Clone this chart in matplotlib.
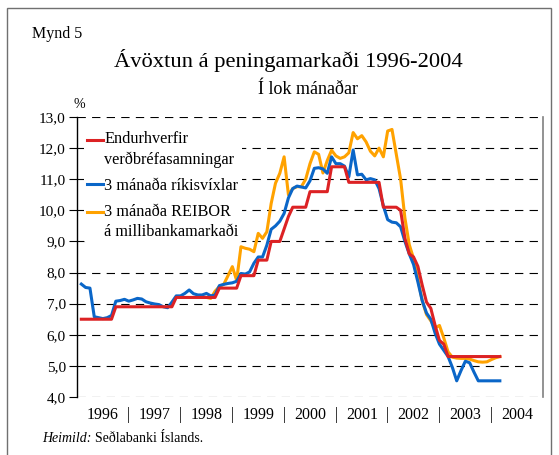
import matplotlib
matplotlib.use("Agg")
import matplotlib.pyplot as plt
from matplotlib.lines import Line2D
from matplotlib.legend_handler import HandlerLine2D
from matplotlib.patches import Rectangle
import numpy as np

plt.rcParams['font.family'] = ['Liberation Serif', 'DejaVu Serif']
plt.rcParams['lines.scale_dashes'] = False

# Mánaðargögn, jan 1996 (1) til feb 2004 (98)
endurhverf = ([6.5] * 8 + [6.9] * 14 + [7.2] * 10 + [7.5] * 5 + [7.9] * 4 +
              [8.4] * 3 + [9.0] * 3 + [9.4, 9.8] + [10.1] * 4 + [10.6] * 5 +
              [11.4] * 4 + [10.9] * 8 + [10.1] * 4 + [10.0] +
              [9.1, 8.6, 8.5, 8.2, 7.6, 7.05, 6.85, 6.3, 5.82, 5.7] + [5.3] * 13)

rikisvixlar = [7.63, 7.52, 7.50, 6.58, 6.55, 6.52, 6.55, 6.62, 7.08, 7.10,
               7.14, 7.08, 7.12, 7.17, 7.15, 7.06, 7.02, 6.99, 6.97, 6.90,
               6.87, 7.05, 7.25, 7.25, 7.33, 7.44, 7.32, 7.28, 7.28, 7.33,
               7.25, 7.28, 7.58, 7.62, 7.65, 7.67, 7.72, 7.97, 7.95, 8.02,
               8.30, 8.50, 8.50, 8.88, 9.39, 9.50, 9.65, 9.90, 10.40, 10.70,
               10.78, 10.75, 10.72, 10.95, 11.35, 11.37, 11.33, 11.19, 11.72, 11.50,
               11.50, 11.42, 11.08, 11.94, 11.14, 11.16, 10.98, 11.02, 10.98, 10.70,
               10.15, 9.70, 9.62, 9.60, 9.47, 9.00, 8.60, 8.26, 7.70, 7.10,
               6.70, 6.50, 6.05, 5.70, 5.50, 5.30, 4.95, 4.52, 4.85, 5.15,
               5.10, 4.80, 4.52, 4.52, 4.52, 4.52, 4.52, 4.52]

reibor = [7.25, 7.22, 7.20, 7.17, 7.40, 7.55, 7.62, 7.90, 8.19, 7.75,
          8.83, 8.78, 8.75, 8.67, 9.26, 9.10, 9.31, 10.22, 10.87, 11.19,
          11.72, 10.50, 10.70, 10.76, 10.76, 11.00, 11.50, 11.88, 11.80, 11.20,
          11.60, 11.93, 11.75, 11.67, 11.72, 11.85, 12.50, 12.30, 12.40, 12.20,
          11.90, 11.75, 12.00, 11.72, 12.55, 12.60, 11.80, 11.00, 9.75, 8.90,
          8.45, 7.80, 7.10, 6.65, 6.45, 6.22, 6.30, 5.90, 5.45, 5.28,
          5.25, 5.24, 5.24, 5.22, 5.17, 5.13, 5.12, 5.13, 5.20, 5.26, 5.30]

ar = ['1996', '1997', '1998', '1999', '2000', '2001', '2002', '2003', '2004']

t = np.arange(1, len(rikisvixlar) + 1)
t_reibor = np.arange(28, 28 + len(reibor))


class FyrstaLina(HandlerLine2D):
    # setur línuna við fyrstu línu textans
    def __init__(self, hlidrun=0, **kw):
        super().__init__(**kw)
        self.hlidrun = hlidrun

    def create_artists(self, *args, **kw):
        artists = super().create_artists(*args, **kw)
        for a in artists:
            a.set_ydata(np.asarray(a.get_ydata()) + self.hlidrun)
        return artists


W, H = 559, 455
fig = plt.figure(figsize=(W / 100, H / 100), dpi=100)
ax = fig.add_axes([77 / W, 58 / H, 466 / W, 280 / H])

rautt = '#dc2224'
blatt = '#0a66c8'
gult = '#ffa200'

ax.plot(t_reibor, reibor, color=gult, lw=2.2, zorder=3)
ax.plot(t, rikisvixlar, color=blatt, lw=2.2, zorder=4)
ax.plot(t, endurhverf, color=rautt, lw=2.2, zorder=5)

ax.set_xlim(0, 108)
ax.set_ylim(4, 13)
ax.set_yticks(range(4, 14))
ax.set_yticklabels([f'{v},0' for v in range(4, 14)], fontsize=11)
ax.grid(axis='y', color='black', linestyle=(0, (6, 4.5)), linewidth=0.8)
ax.set_axisbelow(True)

ax.set_xticks(np.arange(6, 108, 12))
ax.set_xticklabels(ar, fontsize=11.5)
ax.set_xticks(np.arange(12, 108, 12), minor=True)
ax.set_xticklabels(['|'] * 8, minor=True, fontsize=11.5)
ax.tick_params(axis='x', which='both', length=0, pad=7)
ax.tick_params(axis='y', direction='out', length=6, width=0.8, pad=2)

ax.spines['top'].set_visible(False)
ax.spines['bottom'].set_visible(False)
ax.spines['right'].set_color('#808080')
ax.spines['right'].set_linewidth(1.2)
ax.spines['left'].set_linewidth(1.0)

fig.text(73 / W, 1 - 104 / H, '%', fontsize=10, ha='left', va='center')

h_rautt = Line2D([], [], color=rautt, lw=2.2)
h_blatt = Line2D([], [], color=blatt, lw=2.2)
h_gult = Line2D([], [], color=gult, lw=2.2)
labels = ['Endurhverfir\nverðbréfasamningar', '3 mánaða ríkisvíxlar',
          '3 mánaða REIBOR\ná millibankamarkaði']
leg = ax.legend([h_rautt, h_blatt, h_gult], labels, loc='upper left',
                bbox_to_anchor=((84 - 77) / 466, 1 - (128 - 117) / 280),
                fontsize=11.7, frameon=True, facecolor='white', edgecolor='none',
                framealpha=1, handlelength=1.0, handletextpad=0.05,
                labelspacing=0.6, borderpad=0.2, borderaxespad=0,
                handler_map={h_rautt: FyrstaLina(7.4), h_gult: FyrstaLina(7.4)})
for txt in leg.get_texts():
    txt.set_linespacing(1.35)
leg.set_zorder(6)

fig.text(32 / W, 1 - 34 / H, 'Mynd 5', fontsize=11.5, ha='left', va='center')
fig.text(288 / W, 1 - 60 / H, 'Ávöxtun á peningamarkaði 1996-2004',
         fontsize=16.2, ha='center', va='center')
fig.text(308 / W, 1 - 89 / H, 'Í lok mánaðar', fontsize=13, ha='center', va='center')

heim = fig.text(42 / W, 1 - 438 / H, 'Heimild:', fontsize=10, style='italic',
                ha='left', va='center')
r = fig.canvas.get_renderer()
bb = heim.get_window_extent(renderer=r)
fig.text((bb.x1 + 4) / W, 1 - 438 / H, 'Seðlabanki Íslands.', fontsize=10,
         ha='left', va='center')

fig.patches.append(Rectangle((7 / W, -0.05), (551 - 7) / W, 1.05 - 8 / H,
                             transform=fig.transFigure, fill=False,
                             edgecolor='#707070', linewidth=1.0))

fig.savefig('out.png', dpi=100)
